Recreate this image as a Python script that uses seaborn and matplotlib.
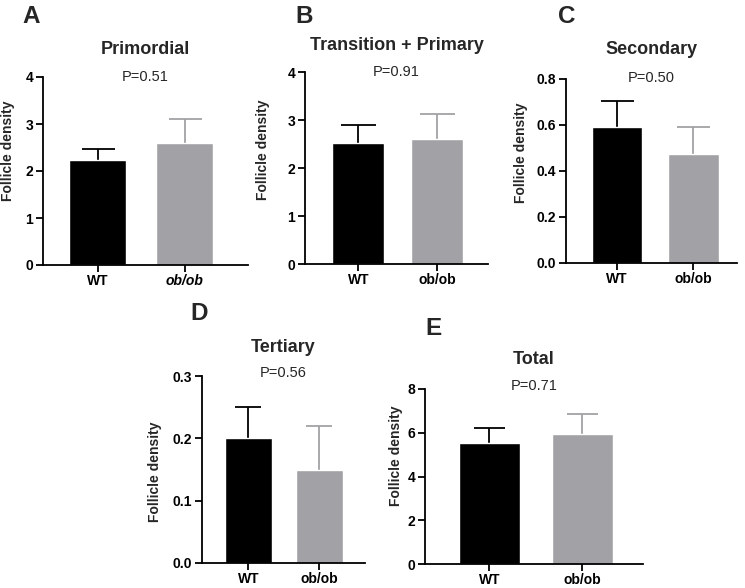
import matplotlib
matplotlib.use("Agg")
import matplotlib.pyplot as plt
import seaborn as sns
import pandas as pd
import numpy as np

# ---------------- data ----------------
groups = ["WT", "ob/ob"]
titles = ["Primordial", "Transition + Primary", "Secondary", "Tertiary", "Total"]
panel_letters = ["A", "B", "C", "D", "E"]
p_values = ["P=0.51", "P=0.91", "P=0.50", "P=0.56", "P=0.71"]

primordial_mean = [2.23, 2.60]
primordial_err = [0.24, 0.50]
transition_mean = [2.53, 2.60]
transition_err = [0.37, 0.53]
secondary_mean = [0.590, 0.473]
secondary_err = [0.115, 0.120]
tertiary_mean = [0.200, 0.149]
tertiary_err = [0.050, 0.071]
total_mean = [5.55, 5.95]
total_err = [0.65, 0.90]

means = [primordial_mean, transition_mean, secondary_mean, tertiary_mean, total_mean]
errs = [primordial_err, transition_err, secondary_err, tertiary_err, total_err]
y_max = [4, 4, 0.8, 0.3, 8]
y_step = [1, 1, 0.2, 0.1, 2]
y_fmt = ["{:.0f}", "{:.0f}", "{:.1f}", "{:.1f}", "{:.0f}"]

# ---------------- style ----------------
sns.set_style("ticks")
plt.rcParams["font.family"] = ["Liberation Sans", "DejaVu Sans"]
plt.rcParams["font.weight"] = "bold"
plt.rcParams["axes.labelweight"] = "bold"

W, H = 745, 588
fig = plt.figure(figsize=(W / 100, H / 100), dpi=100)

colors = ["#000000", "#a2a2a6"]
# axes boxes in pixels: left, top, right, bottom
boxes = [(43, 77, 248, 265), (305, 72, 488, 264), (566, 79, 737, 263),
         (202, 376, 365, 563), (425, 389, 643, 564)]
xlims = [(-0.63, 1.73), (-0.68, 1.65), (-0.67, 1.57), (-0.65, 1.64), (-0.69, 1.65)]
caps_px = [33, 35, 33, 27, 31]
title_y = [50, 45, 50, 347, 360]
p_y = [77, 72, 78, 373, 386]
letter_pos = [(22, 5), (295, 5), (558, 5), (190, 302), (425, 317)]
ylabel_dx = [-28, -35, -38, -40, -22]   # px left of axis (label's right edge)
ylabel_y = [0.61, 0.595, 0.60, 0.49, 0.616]

def fx(px):
    return px / W

def fy(py):
    return 1 - py / H

for i in range(5):
    l, t, r, b = boxes[i]
    ax = fig.add_axes([fx(l), fy(b), fx(r - l), (b - t) / H])
    df = pd.DataFrame({"group": groups, "value": means[i]})
    sns.barplot(data=df, x="group", y="value", hue="group", palette=colors,
                width=0.66, legend=False, ax=ax, saturation=1, errorbar=None,
                zorder=2)
    for j in range(2):
        m, e = means[i][j], errs[i][j]
        ax.plot([j, j], [m, m + e], color=colors[j], lw=1.3, zorder=1,
                solid_capstyle="butt")
        ax.plot([j], [m + e], marker="_", markersize=caps_px[i] * 0.72,
                markeredgewidth=1.3, color=colors[j], zorder=1)
    ax.set_xlim(*xlims[i])
    ax.set_ylim(0, y_max[i])
    ticks = np.round(np.arange(0, y_max[i] + y_step[i] / 2, y_step[i]), 3)
    ax.set_yticks(ticks)
    ax.set_yticklabels([y_fmt[i].format(v) for v in ticks])
    ax.set_xlabel("")
    ax.set_ylabel("Follicle density", fontsize=10, fontweight="bold")
    ax.yaxis.set_label_coords(ylabel_dx[i] / (r - l), ylabel_y[i])
    for s in ["top", "right"]:
        ax.spines[s].set_visible(False)
    for s in ["left", "bottom"]:
        ax.spines[s].set_linewidth(1.3)
        ax.spines[s].set_color("black")
    ax.tick_params(axis="both", width=1.3, length=5, labelsize=10, colors="black",
                   pad=2)
    ax.tick_params(axis="x", pad=1.5)
    for lab in ax.get_xticklabels() + ax.get_yticklabels():
        lab.set_fontweight("bold")
    if i == 0:
        ax.get_xticklabels()[1].set_fontstyle("italic")
    cx = (l + r) / 2
    fig.text(fx(cx), fy(title_y[i]), titles[i], ha="center", va="center",
             fontsize=13, fontweight="bold")
    fig.text(fx(cx), fy(p_y[i]), p_values[i], ha="center", va="center",
             fontsize=10.5, fontweight="normal")
    lx, ly = letter_pos[i]
    fig.text(fx(lx), fy(ly), panel_letters[i], ha="left", va="top",
             fontsize=17.5, fontweight="bold")

fig.savefig("out.png", dpi=100)
